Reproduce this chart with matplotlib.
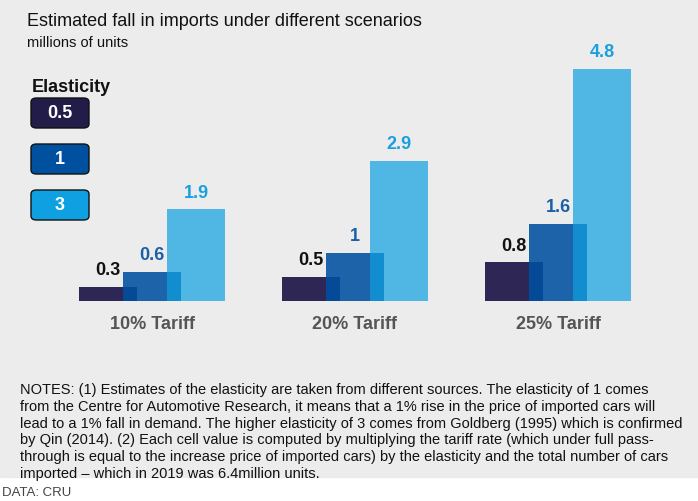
import numpy as np
import matplotlib.pyplot as plt
from matplotlib.patches import FancyBboxPatch, Rectangle

scenarios = ['10% Tariff', '20% Tariff', '25% Tariff']
elasticities = ['0.5', '1', '3']
fall_05 = [0.3, 0.5, 0.8]
fall_1 = [0.6, 1.0, 1.6]
fall_3 = [1.9, 2.9, 4.8]
value_labels = [['0.3', '0.5', '0.8'], ['0.6', '1', '1.6'], ['1.9', '2.9', '4.8']]

notes = [
    "NOTES: (1) Estimates of the elasticity are taken from different sources. The elasticity of 1 comes",
    "from the Centre for Automotive Research, it means that a 1% rise in the price of imported cars will",
    "lead to a 1% fall in demand. The higher elasticity of 3 comes from Goldberg (1995) which is confirmed",
    "by Qin (2014). (2) Each cell value is computed by multiplying the tariff rate (which under full pass-",
    "through is equal to the increase price of imported cars) by the elasticity and the total number of cars",
    "imported \u2013 which in 2019 was 6.4million units.",
]

W, H = 698, 502
fig = plt.figure(figsize=(W / 100, H / 100), dpi=100)
fig.patches.append(Rectangle((0, 24 / H), 1, 1, transform=fig.transFigure, color='#ececec', zorder=-5))

ax = fig.add_axes([0, 0, 1, 1])
ax.set_facecolor('none')
ax.set_zorder(1)
ax.set_xlim(-152 / 203, (W - 152) / 203)
ax.set_ylim(-200 / 48.3, (H - 200) / 48.3)
ax.axis('off')

x = np.arange(len(scenarios))
width = 0.285
off = 0.217
series = [fall_05, fall_1, fall_3]
colors = [('#2e2654', 1.0), ('#0050a0', 0.88), ('#0ea0e0', 0.7)]
text_colors = ['#111111', '#1b5fa8', '#1aa0e0']
for i, vals in enumerate(series):
    c, a = colors[i]
    ax.bar(x + (i - 1) * off, vals, width, color=c, alpha=a, zorder=2 + i)
    for j, v in enumerate(vals):
        ax.text(x[j] + (i - 1) * off, v + 0.18, value_labels[i][j], ha='center', va='bottom',
                fontsize=13, fontweight='bold', color=text_colors[i], family='Liberation Sans')
for j, s in enumerate(scenarios):
    ax.text(x[j], -0.28, s, ha='center', va='top', fontsize=13, fontweight='bold',
            color='#555555', family='Liberation Sans')


def fy(py):
    return 1 - py / H


fig.text(27 / W, fy(22), 'Estimated fall in imports under different scenarios', fontsize=13,
         va='center', family='Liberation Sans', color='#111111')
fig.text(27 / W, fy(43), 'millions of units', fontsize=10.5, va='center', family='Liberation Sans',
         color='#111111')
fig.text(32 / W, fy(87), 'Elasticity', fontsize=13, fontweight='bold', va='center',
         family='Liberation Sans', color='#111111')
box_colors = ['#221c48', '#0050a0', '#0ea0e0']
for k, (lab, bc) in enumerate(zip(elasticities, box_colors)):
    cy = 114 + k * 46
    fig.patches.append(FancyBboxPatch(((31) / W, fy(cy + 15)), 58 / W, 30 / H,
                                      boxstyle='round,pad=0,rounding_size=0.008',
                                      transform=fig.transFigure, facecolor=bc,
                                      edgecolor='#111111', linewidth=1, zorder=3))
    fig.text(60 / W, fy(cy), lab, ha='center', va='center', fontsize=13, fontweight='bold',
             color='white', family='Liberation Sans', zorder=4)

for k, line in enumerate(notes):
    fig.text(20 / W, fy(390 + k * 16.8), line, fontsize=10.5, va='center',
             family=['Liberation Sans Narrow', 'Liberation Sans'], color='#111111')
fig.text(2 / W, fy(493), 'DATA: CRU', fontsize=9.5, va='center',
         family=['Liberation Sans Narrow', 'Liberation Sans'], color='#444444')

fig.savefig('out.png', dpi=100)
